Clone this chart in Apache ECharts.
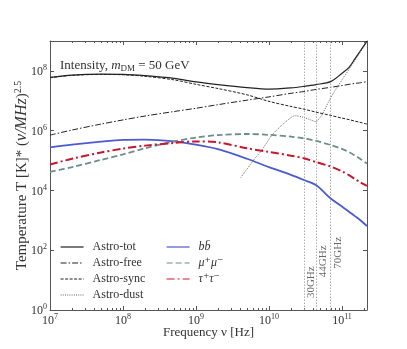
<!DOCTYPE html>
<html>
<head>
<meta charset="utf-8">
<script src="https://cdn.jsdelivr.net/npm/echarts@6/dist/echarts.min.js"></script>
<style>
html, body { margin: 0; padding: 0; background: #fff; }
#chart { width: 407px; height: 349px; }
</style>
</head>
<body>
<div id="chart"></div>
<script>
// frequency grid [Hz] shared by most curves
var freq = [1e7, 2e7, 5e7, 1e8, 2e8, 5e8, 1e9, 2e9, 5e9, 1e10, 2e10, 3e10, 4.4e10, 7e10, 1e11, 1.25e11, 1.5e11, 1.75e11, 2.2e11];

var astroTot  = [6.03e7, 7.24e7, 7.76e7, 7.64e7, 6.92e7, 5.62e7, 4.27e7, 3.47e7, 2.75e7, 2.45e7, 2.69e7, 3.02e7, 3.47e7, 4.37e7, 8.32e7, 1.32e8, 2.51e8, 4.37e8, 1.0e9];
var astroFree = [7.08e5, 1.05e6, 1.66e6, 2.29e6, 3.09e6, 4.37e6, 5.62e6, 7.41e6, 1.05e7, 1.35e7, 1.78e7, 2.04e7, 2.40e7, 2.82e7, 3.24e7, 3.55e7, 3.80e7, 3.98e7, 4.37e7];
var astroSync = [5.89e7, 7.08e7, 7.59e7, 7.41e7, 6.61e7, 5.01e7, 3.55e7, 2.57e7, 1.58e7, 9.55e6, 6.46e6, 5.25e6, 4.17e6, 3.24e6, 2.63e6, 2.34e6, 2.09e6, 1.91e6, 1.66e6];
var bbbar     = [2.75e5, 3.39e5, 4.27e5, 4.90e5, 5.01e5, 4.37e5, 3.39e5, 2.40e5, 1.15e5, 6.03e4, 3.31e4, 2.24e4, 1.51e4, 5.37e3, 2.88e3, 1.95e3, 1.38e3, 1.05e3, 646];
var mumu      = [4.17e4, 6.03e4, 1.05e5, 1.62e5, 2.57e5, 4.37e5, 5.89e5, 7.08e5, 7.76e5, 7.24e5, 6.31e5, 5.50e5, 4.57e5, 3.31e5, 2.45e5, 1.91e5, 1.48e5, 1.17e5, 7.94e4];
var tautau    = [7.41e4, 1.15e5, 1.86e5, 2.51e5, 3.16e5, 3.89e5, 4.37e5, 4.07e5, 2.57e5, 1.95e5, 1.45e5, 1.20e5, 8.91e4, 6.31e4, 4.37e4, 3.24e4, 2.40e4, 1.91e4, 1.41e4];

// dust has its own sampling (only drawn above ~4 GHz)
var dustFreq  = [4.1e9, 6.4e9, 8e9, 1.1e10, 1.65e10, 2.3e10, 3.1e10, 3.8e10, 4.4e10, 4.7e10, 5.3e10, 7e10, 1e11, 1.25e11, 1.5e11, 1.75e11, 2.2e11];
var astroDust = [2.69e4, 1.17e5, 2.24e5, 7.08e5, 1.86e6, 3.16e6, 2.69e6, 2.24e6, 2.0e6, 2.29e6, 3.31e6, 1.26e7, 5.01e7, 1.12e8, 2.24e8, 3.98e8, 9.33e8];

// Planck LFI bands
var bandFreq  = [3e10, 4.4e10, 7e10];
var bandNames = ['30GHz', '44GHz', '70GHz'];
var bandLabelT = [2.5, 12.5, 24];

var serif = "'Liberation Serif', 'DejaVu Serif', serif";
var txt = '#333';
var axisCol = '#555';

function pairs(xs, ys) {
    return xs.map(function (x, i) { return [x, ys[i]]; });
}

// minor ticks 2..9 in every decade
var minorFreq = [];
for (var d = 1e7; d < 2.2e11; d *= 10) {
    for (var k = 2; k <= 9; k++) {
        if (k * d < 2.2e11) minorFreq.push([k * d, 1]);
    }
}

var powRich = {
    b: { fontFamily: serif, fontSize: 12, color: txt, lineHeight: 14, verticalAlign: 'bottom' },
    s: { fontFamily: serif, fontSize: 8, color: txt, lineHeight: 14, verticalAlign: 'top' }
};

function xLabel(v) {
    var e = Math.round(Math.log10(v));
    if (Math.abs(v - Math.pow(10, e)) > 1e-6 * v) return '';
    return '{b|10}{s|' + e + '}';
}
function yLabel(v) {
    var e = Math.round(Math.log10(v));
    if (Math.abs(v - Math.pow(10, e)) > 1e-6 * v || e % 2 !== 0) return '';
    return '{b|10}{s|' + e + '}';
}

function curve(name, xs, ys, color, width, dash, z) {
    return {
        name: name,
        type: 'line',
        data: pairs(xs, ys),
        symbol: 'none',
        smooth: 0.3,
        z: z,
        lineStyle: { color: color, width: width, type: dash },
        itemStyle: { color: color }
    };
}

var legendBase = {
    top: 241, orient: 'vertical', padding: 0,
    itemWidth: 23, itemHeight: 10, itemGap: 4,
    itemStyle: { opacity: 0 },
    lineStyle: { width: 1.2 }
};

var myChart = echarts.init(document.getElementById('chart'));

var option = {
    animation: false,
    backgroundColor: '#fff',
    title: {
        left: 55, top: 53,
        text: '{a|Intensity, }{i|m}{u|DM}{a| = 50 GeV}',
        textStyle: {
            fontWeight: 'normal',
            rich: {
                a: { fontFamily: serif, fontSize: 13, color: txt, fontWeight: 'normal' },
                i: { fontFamily: serif, fontSize: 13, color: txt, fontStyle: 'italic', fontWeight: 'normal' },
                u: { fontFamily: serif, fontSize: 9, color: txt, fontWeight: 'normal', padding: [6, 0, 0, 0] }
            }
        }
    },
    grid: { left: 50, right: 40, top: 41, bottom: 39 },
    legend: [
        echarts.util.merge({
            left: 60,
            textStyle: { fontFamily: serif, fontSize: 12, color: txt, lineHeight: 12, padding: [0, 0, 0, 4] },
            data: ['Astro-tot', 'Astro-free', 'Astro-sync', 'Astro-dust']
        }, legendBase),
        echarts.util.merge({
            left: 166,
            textStyle: { fontFamily: serif, fontSize: 12, color: txt, lineHeight: 12, padding: [0, 0, 0, 4], fontStyle: 'italic' },
            data: ['bb\u0304', '\u03bc\u207a\u03bc\u207b', '\u03c4\u207a\u03c4\u207b']
        }, legendBase)
    ],
    xAxis: [
        {
            type: 'log', logBase: 10, min: 1e7, max: 2.2e11,
            name: 'Frequency \u03bd [Hz]', nameLocation: 'middle', nameGap: 16,
            nameMoveOverlap: false,
            nameTextStyle: { fontFamily: serif, fontSize: 13, color: txt },
            axisLine: { lineStyle: { color: axisCol, width: 1 } },
            axisTick: { inside: true, length: 4, lineStyle: { color: axisCol } },
            axisLabel: { margin: 3, formatter: xLabel, rich: powRich },
            splitLine: { show: false }
        },
        {
            type: 'log', logBase: 10, min: 1e7, max: 2.2e11, position: 'top',
            axisLine: { lineStyle: { color: axisCol, width: 1 } },
            axisTick: { inside: true, length: 4, lineStyle: { color: axisCol } },
            axisLabel: { show: false },
            splitLine: { show: false }
        }
    ],
    yAxis: [
        {
            type: 'log', logBase: 100, min: 1, max: 1e9,
            name: '{a|Temperature T [K]* (}{i|\u03bd/MHz}{a|)}{s|2.5}',
            nameLocation: 'middle', nameGap: 20, nameRotate: 90,
            nameMoveOverlap: false,
            nameTextStyle: {
                rich: {
                    a: { fontFamily: serif, fontSize: 15, color: txt, lineHeight: 17, verticalAlign: 'bottom' },
                    i: { fontFamily: serif, fontSize: 16, color: txt, fontStyle: 'italic', lineHeight: 17, verticalAlign: 'bottom' },
                    s: { fontFamily: serif, fontSize: 10, color: txt, lineHeight: 17, verticalAlign: 'top' }
                }
            },
            axisLine: { lineStyle: { color: axisCol, width: 1 } },
            axisTick: { inside: true, length: 4, lineStyle: { color: axisCol } },
            axisLabel: { margin: 3, formatter: yLabel, rich: powRich },
            splitLine: { show: false }
        },
        {
            type: 'log', logBase: 100, min: 1, max: 1e9, position: 'right',
            axisLine: { lineStyle: { color: axisCol, width: 1 } },
            axisTick: { inside: true, length: 4, lineStyle: { color: axisCol } },
            axisLabel: { show: false },
            splitLine: { show: false }
        }
    ],
    series: [
        curve('Astro-tot', freq, astroTot, '#222', 1.2, 'solid', 5),
        curve('Astro-free', freq, astroFree, '#222', 1, [6, 2, 1.5, 2], 4),
        curve('Astro-sync', freq, astroSync, '#222', 1, [3, 1.5], 4),
        curve('Astro-dust', dustFreq, astroDust, '#666', 1, [1, 1.2], 4),
        curve('bb\u0304', freq, bbbar, '#4a5bd0', 1.8, 'solid', 6),
        curve('\u03bc\u207a\u03bc\u207b', freq, mumu, '#6f8c8c', 1.8, [6, 3], 6),
        curve('\u03c4\u207a\u03c4\u207b', freq, tautau, '#c8162e', 2, [8, 3, 2, 3], 6),
        {
            // band lines + labels
            type: 'scatter',
            symbolSize: 0,
            silent: true,
            data: bandFreq.map(function (f, i) { return { value: [f, bandLabelT[i]], name: bandNames[i] }; }),
            label: {
                show: true, position: 'right', distance: 2, rotate: 90,
                align: 'left', verticalAlign: 'top',
                formatter: '{b}',
                fontFamily: serif, fontSize: 11, color: '#444'
            },
            markLine: {
                silent: true, symbol: 'none',
                label: { show: false },
                lineStyle: { color: '#999', width: 0.8, type: [1.5, 1.5] },
                data: bandFreq.map(function (f) { return { xAxis: f }; })
            },
            z: 3
        },
        {
            // minor ticks on the frequency axis (bottom and top)
            type: 'custom',
            silent: true,
            data: minorFreq,
            renderItem: function (params, api) {
                var p = api.coord([api.value(0), 1]);
                var cs = params.coordSys;
                var x = Math.round(p[0]) + 0.5;
                return {
                    type: 'group',
                    children: [
                        { type: 'line', shape: { x1: x, y1: cs.y + cs.height, x2: x, y2: cs.y + cs.height - 2 }, style: { stroke: axisCol, lineWidth: 1 } },
                        { type: 'line', shape: { x1: x, y1: cs.y, x2: x, y2: cs.y + 2 }, style: { stroke: axisCol, lineWidth: 1 } }
                    ]
                };
            },
            z: 2
        }
    ]
};

myChart.setOption(option);
window.addEventListener('resize', function () { myChart.resize(); });
</script>
</body>
</html>
